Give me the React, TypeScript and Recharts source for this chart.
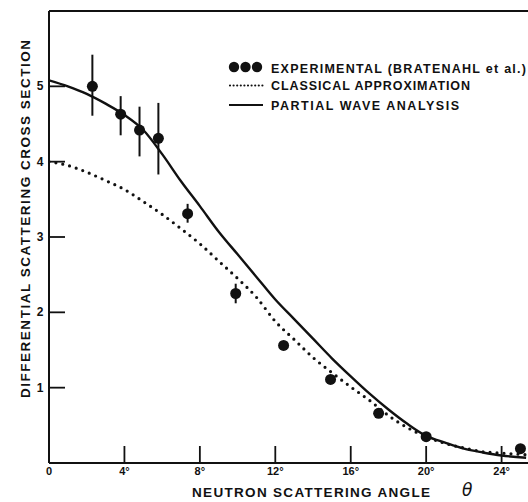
import {
  ComposedChart,
  ErrorBar,
  Line,
  ReferenceLine,
  Scatter,
  XAxis,
  YAxis,
} from "recharts";

// curve samples (angle in degrees)
const curveAngles = [0, 1, 2, 3, 4, 5, 6, 7, 8, 9, 10, 11, 12, 13, 14, 15, 16, 17, 18, 19, 20, 21, 22, 23, 24, 25.3];
const partialWave = [5.08, 5.0, 4.9, 4.77, 4.62, 4.42, 4.1, 3.74, 3.41, 3.07, 2.77, 2.47, 2.17, 1.91, 1.65, 1.39, 1.15, 0.92, 0.71, 0.52, 0.36, 0.27, 0.19, 0.14, 0.1, 0.07];
const classical = [4.0, 3.95, 3.86, 3.75, 3.63, 3.47, 3.3, 3.11, 2.91, 2.68, 2.45, 2.2, 1.88, 1.64, 1.4, 1.2, 1.01, 0.83, 0.63, 0.47, 0.35, 0.26, 0.2, 0.15, 0.13, 0.11];

// experimental points (Bratenahl et al.)
const expAngle = [2.3, 3.8, 4.8, 5.8, 7.35, 9.9, 12.44, 14.93, 17.48, 20.0, 25.0];
const expValue = [5.0, 4.63, 4.42, 4.31, 3.31, 2.25, 1.56, 1.11, 0.66, 0.35, 0.19];
const errLow = [0.39, 0.28, 0.35, 0.48, 0.12, 0.13, 0, 0, 0, 0, 0];
const errHigh = [0.42, 0.24, 0.31, 0.47, 0.13, 0.13, 0, 0, 0, 0, 0];

const xTicks = [0, 4, 8, 12, 16, 20, 24];
const yTicks = [1, 2, 3, 4, 5];

const FONT = "'Liberation Sans', Arial, sans-serif";
const INK = "#111";

const pwData = curveAngles.map((x, i) => ({ x, y: partialWave[i] }));
const clData = curveAngles.map((x, i) => ({ x, y: classical[i] }));
const expData = expAngle.map((x, i) => ({ x, y: expValue[i], err: [errLow[i], errHigh[i]] }));

function XTick({ x, y, payload }: any) {
  const v = payload.value;
  return (
    <g>
      {v > 0 && <line x1={x} x2={x} y1={y} y2={y - 17} stroke={INK} strokeWidth={1.8} />}
      <text x={x} y={y + 12} textAnchor="middle" fontFamily={FONT} fontWeight="bold" fontSize={11} fill={INK}>
        {v === 0 ? "0" : `${v}°`}
      </text>
    </g>
  );
}

function YTick({ x, y, payload }: any) {
  return (
    <g>
      <line x1={x} x2={x + 16} y1={y} y2={y} stroke={INK} strokeWidth={1.8} />
      <text x={x - 9} y={y + 4} textAnchor="middle" fontFamily={FONT} fontWeight="bold" fontSize={12} fill={INK}>
        {payload.value}
      </text>
    </g>
  );
}

export default function App() {
  return (
    <div style={{ position: "absolute", left: 0, top: 0, width: 528, height: 502, background: "#fff" }}>
      <ComposedChart width={528} height={502} margin={{ top: 11, right: 0, left: 0, bottom: 0 }}>
        <XAxis
          dataKey="x"
          type="number"
          domain={[0, 25.4]}
          ticks={xTicks}
          height={39}
          allowDataOverflow
          tickLine={false}
          tickSize={0}
          tickMargin={0}
          axisLine={{ stroke: INK, strokeWidth: 2 }}
          tick={<XTick />}
        />
        <YAxis
          type="number"
          domain={[0, 6]}
          ticks={yTicks}
          width={49}
          allowDataOverflow
          tickLine={false}
          tickSize={0}
          tickMargin={0}
          axisLine={{ stroke: INK, strokeWidth: 2 }}
          tick={<YTick />}
        />
        <ReferenceLine y={6} stroke={INK} strokeWidth={2} />
        <Line
          data={clData}
          dataKey="y"
          type="monotone"
          dot={false}
          stroke={INK}
          strokeWidth={3.2}
          strokeDasharray="0 7"
          strokeLinecap="round"
          isAnimationActive={false}
        />
        <Line
          data={pwData}
          dataKey="y"
          type="monotone"
          dot={false}
          stroke={INK}
          strokeWidth={2.4}
          isAnimationActive={false}
        />
        <Scatter
          data={expData}
          dataKey="y"
          isAnimationActive={false}
          shape={(p: any) => <circle cx={p.cx} cy={p.cy} r={5.5} fill={INK} />}
        >
          <ErrorBar dataKey="err" direction="y" width={0} stroke={INK} strokeWidth={2} isAnimationActive={false} />
        </Scatter>
      </ComposedChart>

      <svg width={528} height={502} style={{ position: "absolute", left: 0, top: 0, pointerEvents: "none" }}>
        {/* legend */}
        <circle cx={234} cy={67} r={5.2} fill={INK} />
        <circle cx={245.5} cy={67} r={5.2} fill={INK} />
        <circle cx={257} cy={67} r={5.2} fill={INK} />
        <line x1={230} x2={263} y1={85.5} y2={85.5} stroke={INK} strokeWidth={2.2} strokeDasharray="0 3.6" strokeLinecap="round" />
        <line x1={229} x2={263} y1={105} y2={105} stroke={INK} strokeWidth={2.2} />
        <g fontFamily={FONT} fontWeight="bold" fontSize={12.5} fill={INK}>
          <text x={271} y={73} textLength={255} lengthAdjust="spacing">EXPERIMENTAL (BRATENAHL et al.)</text>
          <text x={271} y={90} textLength={199} lengthAdjust="spacing">CLASSICAL APPROXIMATION</text>
          <text x={271} y={110} textLength={188} lengthAdjust="spacing">PARTIAL WAVE ANALYSIS</text>
        </g>
        {/* axis titles */}
        <text
          transform="translate(30,398) rotate(-90)"
          fontFamily={FONT}
          fontWeight="bold"
          fontSize={13.5}
          fill={INK}
          textLength={358}
          lengthAdjust="spacing"
        >
          DIFFERENTIAL SCATTERING CROSS SECTION
        </text>
        <text x={192} y={497} fontFamily={FONT} fontWeight="bold" fontSize={13.5} fill={INK} textLength={238} lengthAdjust="spacing">
          NEUTRON SCATTERING ANGLE
        </text>
        <text x={462} y={496} fontFamily="'DejaVu Sans', sans-serif" fontStyle="italic" fontSize={17} fill={INK}>
          θ
        </text>
      </svg>
    </div>
  );
}
